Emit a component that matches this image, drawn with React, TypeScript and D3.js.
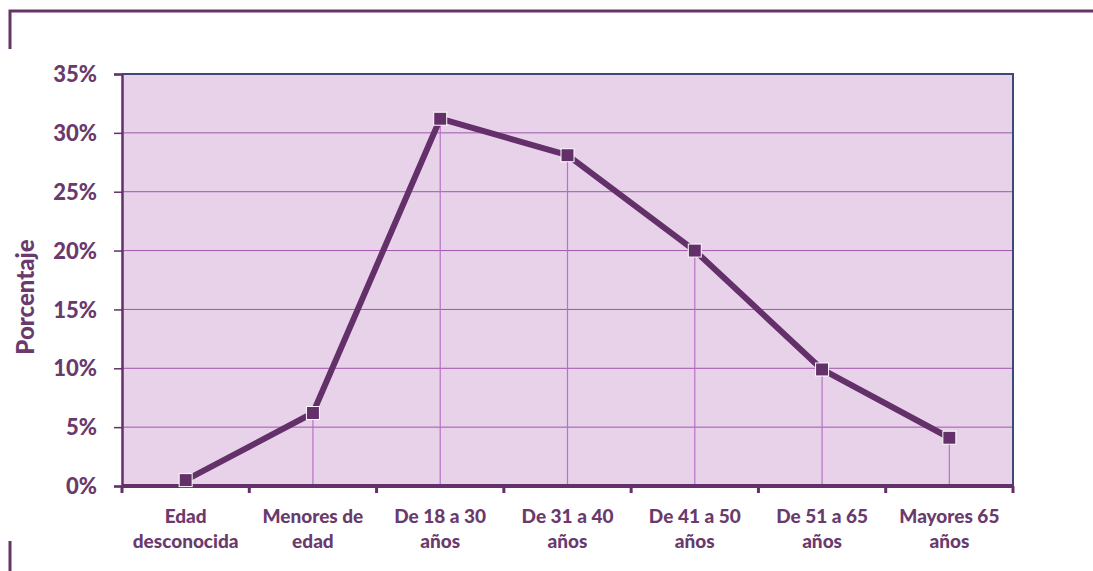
import React, { useEffect, useRef } from 'react';
import * as d3 from 'd3';

// Age groups (two-line labels) and share of cases
const categories = [
  ['Edad', 'desconocida'],
  ['Menores de', 'edad'],
  ['De 18 a 30', 'años'],
  ['De 31 a 40', 'años'],
  ['De 41 a 50', 'años'],
  ['De 51 a 65', 'años'],
  ['Mayores 65', 'años'],
];
const values = [0.5, 6.2, 31.2, 28.1, 20.0, 9.9, 4.1];
const yTicks = [0, 5, 10, 15, 20, 25, 30, 35];

const App = () => {
  const ref = useRef<SVGSVGElement | null>(null);

  useEffect(() => {
    if (!ref.current) return;
    const width = 1093, height = 571;
    const margin = { top: 74, right: 80, bottom: 85, left: 122 };
    const innerW = width - margin.left - margin.right,
          innerH = height - margin.top - margin.bottom;
    const dark = '#63306a', text = '#6a3a6d';
    const font = 'Lato, "Open Sans", sans-serif';

    const svg = d3.select(ref.current);
    svg.selectAll('*').remove();

    // frame decoration
    svg.append('path')
      .attr('d', 'M10,49 L10,11 L1093,11')
      .attr('fill', 'none')
      .attr('stroke', '#663366')
      .attr('stroke-width', 3);
    svg.append('line')
      .attr('x1', 10).attr('x2', 10).attr('y1', 541).attr('y2', 571)
      .attr('stroke', '#663366').attr('stroke-width', 3);

    const g = svg.append('g').attr('transform', `translate(${margin.left},${margin.top})`);

    const x = d3.scaleBand<number>()
      .domain(d3.range(categories.length))
      .range([0, innerW]);
    const y = d3.scaleLinear().domain([0, 35]).range([innerH, 0]);

    g.append('rect')
      .attr('width', innerW).attr('height', innerH)
      .attr('fill', '#e8d2ea');

    // gridlines
    g.selectAll('.grid')
      .data(yTicks.filter(t => t > 0 && t < 35))
      .join('line')
      .attr('x1', 0).attr('x2', innerW)
      .attr('y1', d => y(d)).attr('y2', d => y(d))
      .attr('stroke', '#a055ad').attr('stroke-width', 1);

    // top/right border
    g.append('path')
      .attr('d', `M0,${y(35)} L${innerW},${y(35)} L${innerW},${innerH}`)
      .attr('fill', 'none').attr('stroke', '#3a4a78').attr('stroke-width', 2);

    // drop lines
    g.selectAll('.drop')
      .data(values)
      .join('line')
      .attr('x1', (_, i) => x(i)! + x.bandwidth() / 2)
      .attr('x2', (_, i) => x(i)! + x.bandwidth() / 2)
      .attr('y1', d => y(d)).attr('y2', innerH)
      .attr('stroke', '#b871c4').attr('stroke-width', 1.2);

    // y axis
    const yAxis = g.append('g')
      .call(d3.axisLeft(y).tickValues(yTicks).tickSize(8).tickFormat(d => `${d}%`));
    yAxis.select('.domain').attr('stroke', dark).attr('stroke-width', 2.5);
    yAxis.selectAll('.tick line').attr('stroke', dark).attr('stroke-width', 1.5);
    yAxis.selectAll('.tick text')
      .attr('fill', text).attr('font-family', font).attr('font-weight', 900)
      .attr('font-size', 22).attr('x', -25).attr('dy', '0.35em');

    // x axis
    const xAxis = g.append('g').attr('transform', `translate(0,${innerH})`);
    xAxis.append('line')
      .attr('x1', 0).attr('x2', innerW)
      .attr('stroke', dark).attr('stroke-width', 4);
    xAxis.selectAll('.xt')
      .data(d3.range(categories.length + 1))
      .join('line')
      .attr('x1', d => d * x.step()).attr('x2', d => d * x.step())
      .attr('y1', 0).attr('y2', 7)
      .attr('stroke', dark).attr('stroke-width', 3);
    const labels = xAxis.selectAll('.xl')
      .data(categories)
      .join('text')
      .attr('x', (_, i) => x(i)! + x.bandwidth() / 2)
      .attr('y', 37)
      .attr('text-anchor', 'middle')
      .attr('fill', text).attr('font-family', font).attr('font-weight', 900)
      .attr('font-size', 19);
    labels.selectAll('tspan')
      .data(d => d)
      .join('tspan')
      .attr('x', function () { return (this.parentNode as SVGTextElement).getAttribute('x'); })
      .attr('dy', (_, i) => (i === 0 ? 0 : 25))
      .text(d => d);

    // axis title
    svg.append('text')
      .attr('transform', `translate(34,297) rotate(-90)`)
      .attr('text-anchor', 'middle')
      .attr('fill', text).attr('font-family', font).attr('font-weight', 900)
      .attr('font-size', 24)
      .text('Porcentaje');

    // line + markers
    g.append('path')
      .datum(values)
      .attr('fill', 'none')
      .attr('stroke', dark)
      .attr('stroke-width', 6)
      .attr('stroke-linejoin', 'round')
      .attr('d', d3.line<number>()
        .x((_, i) => x(i)! + x.bandwidth() / 2)
        .y(d => y(d)));

    g.selectAll('.pt')
      .data(values)
      .join('rect')
      .attr('x', (_, i) => x(i)! + x.bandwidth() / 2 - 6.5)
      .attr('y', d => y(d) - 6.5)
      .attr('width', 13).attr('height', 13)
      .attr('fill', dark).attr('stroke', '#ffffff').attr('stroke-width', 1);
  }, []);

  return <svg ref={ref} width={1093} height={571} style={{ position: 'absolute', left: 0, top: 0 }} />;
};

export default App;
